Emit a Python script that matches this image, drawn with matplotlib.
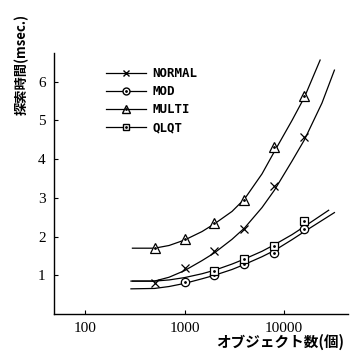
"""オブジェクト数と探索時間（NORMAL / MOD / MULTI / QLQT）。"""

import matplotlib

matplotlib.use("Agg")
import matplotlib.pyplot as plt
from matplotlib.legend_handler import HandlerTuple
from matplotlib.lines import Line2D

# 測定点
n_objects = [500, 1000, 2000, 4000, 8000, 16000]
normal_pts = [0.80, 1.19, 1.63, 2.20, 3.31, 4.57]
mod_pts = [0.67, 0.82, 1.01, 1.29, 1.58, 2.20]
multi_pts = [1.70, 1.94, 2.35, 2.95, 4.31, 5.63]
qlqt_pts = [0.84, 0.88, 1.11, 1.42, 1.76, 2.40]

# 曲線（図から読んだ値）
normal_cx = [300, 500, 700, 1000, 1500, 2000, 3000, 4000, 6000, 8000, 12000, 16000, 24000, 32000]
normal_cy = [0.85, 0.85, 0.95, 1.12, 1.38, 1.58, 1.93, 2.22, 2.75, 3.20, 3.95, 4.50, 5.45, 6.30]
multi_cx = [300, 500, 700, 1000, 1500, 2000, 3000, 4000, 6000, 8000, 12000, 16000, 23000]
multi_cy = [1.70, 1.70, 1.77, 1.91, 2.13, 2.33, 2.65, 2.97, 3.62, 4.20, 5.00, 5.60, 6.56]
qlqt_cx = [290, 500, 700, 1000, 1500, 2000, 3000, 4000, 6000, 8000, 12000, 16000, 28000]
qlqt_cy = [0.85, 0.85, 0.88, 0.94, 1.04, 1.13, 1.29, 1.42, 1.62, 1.79, 2.05, 2.26, 2.68]
mod_cx = [290, 500, 700, 1000, 1500, 2000, 3000, 4000, 6000, 8000, 12000, 16000, 32000]
mod_cy = [0.65, 0.66, 0.71, 0.79, 0.91, 1.00, 1.15, 1.28, 1.48, 1.64, 1.92, 2.13, 2.62]

x_ticks = [100, 1000, 10000]
x_ticklabels = ["100", "1000", "10000"]
y_ticks = [1, 2, 3, 4, 5, 6]

JP = ["Noto Sans CJK JP", "DejaVu Sans"]


def main() -> None:
    fig = plt.figure(figsize=(3.51, 3.54), dpi=100)
    ax = fig.add_axes([0.154, 0.113, 0.838, 0.737])

    lw = 0.9
    ax.plot(normal_cx, normal_cy, color="black", linewidth=lw)
    ax.plot(multi_cx, multi_cy, color="black", linewidth=lw)
    ax.plot(qlqt_cx, qlqt_cy, color="black", linewidth=lw)
    ax.plot(mod_cx, mod_cy, color="black", linewidth=lw)

    mk = dict(color="black", linestyle="none", markerfacecolor="white",
              markeredgecolor="black", markeredgewidth=0.9)
    dot = dict(color="black", linestyle="none", marker=".", markersize=2)
    ax.plot(n_objects, normal_pts, marker="x", markersize=6, **mk)
    ax.plot(n_objects[1:], mod_pts[1:], marker="o", markersize=6, **mk)
    ax.plot(n_objects[1:], mod_pts[1:], **dot)
    ax.plot(n_objects, multi_pts, marker="^", markersize=7, **mk)
    ax.plot(n_objects, multi_pts, **dot)
    ax.plot(n_objects[2:], qlqt_pts[2:], marker="s", markersize=6, **mk)
    ax.plot(n_objects[2:], qlqt_pts[2:], **dot)

    ax.set_xscale("log")
    ax.set_xlim(49, 44000)
    ax.set_ylim(0, 6.74)
    ax.set_xticks(x_ticks)
    ax.set_xticklabels(x_ticklabels)
    ax.xaxis.set_minor_locator(matplotlib.ticker.NullLocator())
    ax.set_yticks(y_ticks)
    for s in ("top", "right"):
        ax.spines[s].set_visible(False)
    for s in ("left", "bottom"):
        ax.spines[s].set_linewidth(1.0)
    ax.tick_params(direction="in", length=3, width=0.8, labelsize=11)
    ax.tick_params(axis="x", pad=6)
    ax.tick_params(axis="y", pad=6)
    for lab in ax.get_xticklabels() + ax.get_yticklabels():
        lab.set_family("Liberation Serif")

    ax.text(-0.11, 0.955, "探索時間(msec.)", transform=ax.transAxes, rotation=90,
            ha="center", va="center", fontsize=9.5, family=JP, fontweight="bold")
    ax.text(0.985, -0.108, "オブジェクト数(個)", transform=ax.transAxes,
            ha="right", va="center", fontsize=10.5, family=JP, fontweight="bold")

    base = dict(color="black", linewidth=lw)
    small_dot = Line2D([], [], marker=".", markersize=2, linestyle="none", color="black")
    h_normal = Line2D([], [], marker="x", markersize=5, **base)
    h_mod = (Line2D([], [], marker="o", markersize=5, markerfacecolor="white",
                    markeredgecolor="black", **base), small_dot)
    h_multi = (Line2D([], [], marker="^", markersize=6, markerfacecolor="white",
                      markeredgecolor="black", **base), small_dot)
    h_qlqt = (Line2D([], [], marker="s", markersize=5, markerfacecolor="white",
                     markeredgecolor="black", **base), small_dot)
    ax.legend([h_normal, h_mod, h_multi, h_qlqt], ["NORMAL", "MOD", "MULTI", "QLQT"],
              handler_map={tuple: HandlerTuple(ndivide=1, pad=0)},
              loc="upper left", bbox_to_anchor=(0.14, 0.99), frameon=False,
              handlelength=3.2, handletextpad=0.5, labelspacing=0.42,
              prop={"family": "DejaVu Sans Mono", "size": 9, "weight": "bold"})

    fig.savefig("out.png", dpi=100)
    plt.close(fig)


if __name__ == "__main__":
    main()
